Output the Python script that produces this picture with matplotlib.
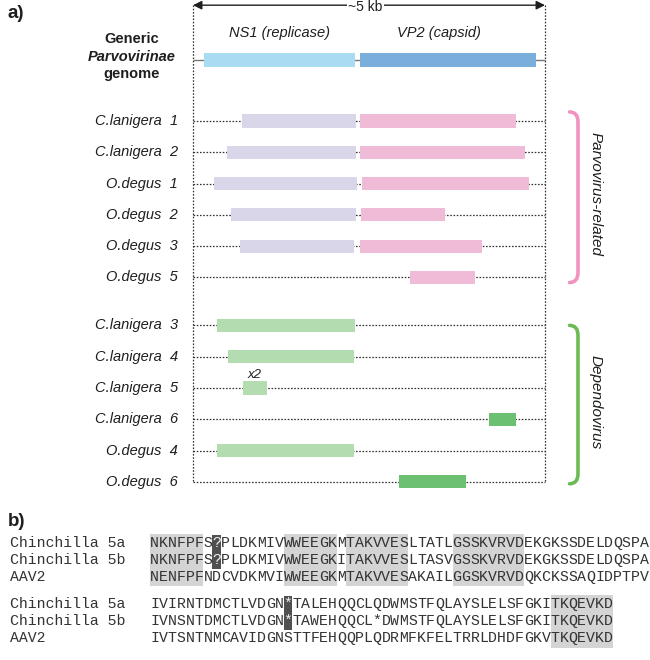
"""Parvovirus-like EVEs in chinchilla and degu genomes, with a short alignment."""

import matplotlib

matplotlib.use("Agg")
import matplotlib.pyplot as plt
from matplotlib.patches import PathPatch, Rectangle
from matplotlib.path import Path

plt.rcParams["font.family"] = ["Liberation Sans", "DejaVu Sans"]

# ---- data: panel a (coordinates in kb along the ~5 kb genome) ----
GENOME_LENGTH = 5.0
GENOME_NS1 = (0.16, 2.30)
GENOME_VP2 = (2.37, 4.87)

PARVO_NAMES = ["C.lanigera  1", "C.lanigera  2", "O.degus  1",
               "O.degus  2", "O.degus  3", "O.degus  5"]
PARVO_NS1 = [(0.70, 2.32), (0.48, 2.32), (0.30, 2.33), (0.54, 2.32), (0.67, 2.29), None]
PARVO_VP2 = [(2.37, 4.59), (2.37, 4.72), (2.40, 4.77), (2.39, 3.58), (2.37, 4.11), (3.08, 4.01)]

DEPENDO_NAMES = ["C.lanigera  3", "C.lanigera  4", "C.lanigera  5",
                 "C.lanigera  6", "O.degus  4", "O.degus  6"]
DEPENDO_NS1 = [(0.34, 2.30), (0.50, 2.29), (0.71, 1.05), None, (0.34, 2.29), None]
DEPENDO_VP2 = [None, None, None, (4.20, 4.59), None, (2.93, 3.88)]
DEPENDO_COPIES = [None, None, "x2", None, None, None]

# ---- data: panel b (alignment) ----
ALIGN_LABELS = ["Chinchilla 5a", "Chinchilla 5b", "AAV2"]
BLOCK1_SEQS = [
    "NKNFPFS?PLDKMIVWWEEGKMTAKVVESLTATLGSSKVRVDEKGKSSDELDQSPA",
    "NKNFPFS?PLDKMIVWWEEGKITAKVVESLTASVGSSKVRVDEKGKSSDELDQSPA",
    "NENFPFNDCVDKMVIWWEEGKMTAKVVESAKAILGGSKVRVDQKCKSSAQIDPTPV",
]
BLOCK1_SHADED = [(0, 6), (15, 21), (22, 29), (34, 42)]   # [start, end) columns
BLOCK1_MARKED = 7                                          # odd residue in 5a/5b
BLOCK2_SEQS = [
    "IVIRNTDMCTLVDGN*TALEHQQCLQDWMSTFQLAYSLELSFGKITKQEVKD",
    "IVNSNTDMCTLVDGN*TAWEHQQCL*DWMSTFQLAYSLELSFGKITKQEVKD",
    "IVTSNTNMCAVIDGNSTTFEHQQPLQDRMFKFELTRRLDHDFGKVTKQEVKD",
]
BLOCK2_SHADED = [(45, 52)]
BLOCK2_MARKED = 15

# ---- layout (pixels of the 650 x 660 canvas) ----
W_PX, H_PX = 650, 660
KB_PX, KB0_PX = 70.4, 193
ROW_PX, ROW0_PX = 31.3, 121
GROUP_GAP = 0.53
GENOME_ROW = -1.95
TOP_ROW = -3.7
BAR_H = 0.42
CHAR_PX, SEQ0_PX = 8.9, 150
LINE_PX, LINE0_PX = 17, 543
BLOCK2_LINE = 3.6

TXT = "#1e1e1e"
C_NS1_GEN, C_VP2_GEN = "#a9dcf3", "#7aaedb"
C_NS1_PARVO, C_VP2_PARVO = "#d9d6ea", "#f0bbd6"
C_NS1_DEP, C_VP2_DEP = "#b4dcb1", "#6cc072"
C_PINK, C_GREEN = "#f093bf", "#6cbb55"
DOT = (0, (1.3, 1.3))


def draw_bracket(ax, x, y0, y1, color):
    w, h = 0.12, 0.32
    verts = [(x - w, y0), (x, y0), (x, y0 + h), (x, y1 - h), (x, y1), (x - w, y1)]
    codes = [Path.MOVETO, Path.CURVE3, Path.CURVE3, Path.LINETO, Path.CURVE3, Path.CURVE3]
    ax.add_patch(PathPatch(Path(verts, codes), fill=False, edgecolor=color,
                           lw=2.6, capstyle="round"))


def panel_a(ax):
    ax.set_xlim(-KB0_PX / KB_PX, (W_PX - KB0_PX) / KB_PX)
    ax.set_ylim((H_PX - ROW0_PX) / ROW_PX, -ROW0_PX / ROW_PX)
    ax.axis("off")

    parvo_y = list(range(len(PARVO_NAMES)))
    dep_y = [len(PARVO_NAMES) + GROUP_GAP + i for i in range(len(DEPENDO_NAMES))]

    # frame: dotted verticals, ~5 kb arrow
    ax.vlines([0, GENOME_LENGTH], TOP_ROW, dep_y[-1], colors="#333333", lw=0.9,
              linestyles=DOT, zorder=1)
    ax.annotate("", xy=(0, TOP_ROW), xytext=(GENOME_LENGTH, TOP_ROW),
                arrowprops=dict(arrowstyle="<|-|>", color=TXT, lw=1.0,
                                shrinkA=0, shrinkB=0, mutation_scale=13))
    ax.text(2.45, TOP_ROW + 0.06, "~5 kb", ha="center", va="center", fontsize=10,
            color=TXT, bbox=dict(facecolor="white", edgecolor="none", pad=1.0))

    # generic genome
    ax.hlines(GENOME_ROW, 0, GENOME_LENGTH, colors="#777777", lw=1.0, zorder=1)
    for (s, e), c in [(GENOME_NS1, C_NS1_GEN), (GENOME_VP2, C_VP2_GEN)]:
        ax.barh(GENOME_ROW, e - s, left=s, height=BAR_H, color=c, zorder=2)
    ax.text(sum(GENOME_NS1) / 2, GENOME_ROW - 0.86, "NS1 (replicase)", ha="center",
            va="center", style="italic", fontsize=10.5, color=TXT)
    ax.text(3.5, GENOME_ROW - 0.86, "VP2 (capsid)", ha="center", va="center",
            style="italic", fontsize=10.5, color=TXT)
    lx = (132 - KB0_PX) / KB_PX
    ax.text(lx, GENOME_ROW - 0.66, "Generic", ha="center", va="center",
            fontweight="bold", fontsize=10.5, color=TXT)
    ax.text(lx, GENOME_ROW - 0.1, "Parvovirinae", ha="center", va="center",
            fontweight="bold", style="italic", fontsize=10.5, color=TXT)
    ax.text(lx, GENOME_ROW + 0.45, "genome", ha="center", va="center",
            fontweight="bold", fontsize=10.5, color=TXT)

    groups = [
        (parvo_y, PARVO_NAMES, PARVO_NS1, PARVO_VP2, C_NS1_PARVO, C_VP2_PARVO,
         [None] * len(PARVO_NAMES)),
        (dep_y, DEPENDO_NAMES, DEPENDO_NS1, DEPENDO_VP2, C_NS1_DEP, C_VP2_DEP,
         DEPENDO_COPIES),
    ]
    for ys, names, ns1, vp2, c1, c2, copies in groups:
        ax.hlines(ys, 0, GENOME_LENGTH, colors="#333333", lw=0.9, linestyles=DOT, zorder=1)
        for y, name, a, b, cp in zip(ys, names, ns1, vp2, copies):
            ax.text(-0.21, y, name, ha="right", va="center", style="italic",
                    fontsize=10.5, color=TXT)
            if a is not None:
                ax.barh(y, a[1] - a[0], left=a[0], height=BAR_H, color=c1, zorder=2)
            if b is not None:
                ax.barh(y, b[1] - b[0], left=b[0], height=BAR_H, color=c2, zorder=2)
            if cp is not None:
                ax.text(sum(a) / 2, y - 0.42, cp, ha="center", va="center",
                        style="italic", fontsize=9.5, color=TXT)

    bx = (578 - KB0_PX) / KB_PX
    draw_bracket(ax, bx, parvo_y[0] - 0.29, parvo_y[-1] + 0.16, C_PINK)
    draw_bracket(ax, bx, dep_y[0], dep_y[-1] + 0.06, C_GREEN)
    ax.text(bx + 0.25, (parvo_y[0] - 0.29 + parvo_y[-1] + 0.16) / 2 - 0.1,
            "Parvovirus-related", rotation=-90, ha="center", va="center",
            style="italic", fontsize=11, color=TXT)
    ax.text(bx + 0.25, (dep_y[0] + dep_y[-1]) / 2 - 0.05, "Dependovirus",
            rotation=-90, ha="center", va="center", style="italic",
            fontsize=11, color=TXT)


def draw_block(ax, y0, seqs, shaded, marked):
    for s, e in shaded:
        ax.add_patch(Rectangle((s, y0 - 0.55), e - s, len(seqs) - 1 + 1.1,
                               facecolor="#d4d4d4", edgecolor="none", zorder=0))
    ax.add_patch(Rectangle((marked, y0 - 0.5), 1, 2.0, facecolor="#505050",
                           edgecolor="none", zorder=1))
    for r, (label, seq) in enumerate(zip(ALIGN_LABELS, seqs)):
        y = y0 + r
        ax.text((10 - SEQ0_PX) / CHAR_PX, y, label, ha="left", va="center",
                family="Liberation Mono", fontsize=10.7, color="#333333")
        for i, ch in enumerate(seq):
            white = i == marked and r < 2
            ax.text(i + 0.5, y, ch, ha="center", va="center", family="Liberation Mono",
                    fontsize=10.7, color="#f2f2f2" if white else "#333333", zorder=2)


def panel_b(ax):
    ax.set_xlim(-SEQ0_PX / CHAR_PX, (W_PX - SEQ0_PX) / CHAR_PX)
    ax.set_ylim((H_PX - LINE0_PX) / LINE_PX, -LINE0_PX / LINE_PX)
    ax.axis("off")
    draw_block(ax, 0, BLOCK1_SEQS, BLOCK1_SHADED, BLOCK1_MARKED)
    draw_block(ax, BLOCK2_LINE, BLOCK2_SEQS, BLOCK2_SHADED, BLOCK2_MARKED)


def main():
    fig = plt.figure(figsize=(W_PX / 100, H_PX / 100), dpi=100)
    ax_a = fig.add_axes([0, 0, 1, 1])
    ax_b = fig.add_axes([0, 0, 1, 1])
    panel_a(ax_a)
    panel_b(ax_b)
    fig.text(8 / W_PX, 1 - 13 / H_PX, "a)", ha="left", va="center",
             fontweight="bold", fontsize=13.5, color=TXT)
    fig.text(8 / W_PX, 1 - 522 / H_PX, "b)", ha="left", va="center",
             fontweight="bold", fontsize=13.5, color=TXT)
    fig.savefig("out.png", dpi=100)
    plt.close(fig)


if __name__ == "__main__":
    main()
